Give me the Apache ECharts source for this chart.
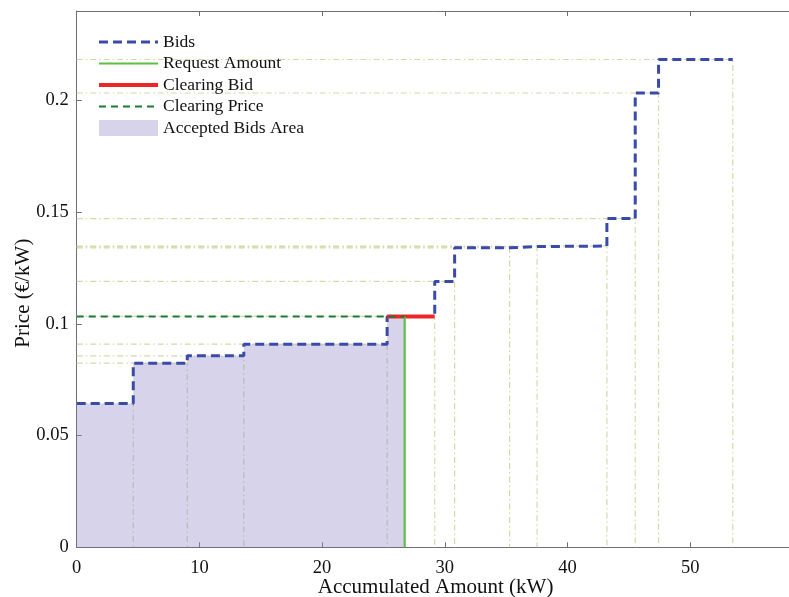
<!DOCTYPE html>
<html>
<head>
<meta charset="utf-8">
<script src="https://cdn.jsdelivr.net/npm/echarts@6/dist/echarts.min.js"></script>
<style>html,body{margin:0;padding:0;background:#fff}#c{width:789px;height:597px}</style>
</head>
<body>
<div id="c"></div>
<script>
// Bid steps: each bid ends at an accumulated amount (kW) and has a price (€/kW)
var stepEnds   = [4.61, 9.01, 13.62, 25.3, 29.18, 30.8, 35.28, 37.52, 43.21, 45.52, 47.42, 53.47];
var stepPrices = [0.0643, 0.0824, 0.0857, 0.0909, 0.1033, 0.119, 0.134, 0.1346, 0.1348, 0.1471, 0.2033, 0.2183];
var requestAmount = 26.73;
var clearingIndex = 4;           // index of the clearing bid
var clearingPrice = stepPrices[clearingIndex];
var xTicks = [0, 10, 20, 30, 40, 50];
var yTicks = [0, 0.05, 0.1, 0.15, 0.2];

var FONT = "'Liberation Serif', 'DejaVu Serif', serif";

// Bids step polyline
var bids = [];
var start = 0;
for (var i = 0; i < stepEnds.length; i++) {
  bids.push([start, stepPrices[i]]);
  bids.push([stepEnds[i], stepPrices[i]]);
  start = stepEnds[i];
}
// Accepted area up to the request amount
var area = [];
start = 0;
for (var i = 0; i < stepEnds.length; i++) {
  var e = Math.min(stepEnds[i], requestAmount);
  area.push([start, stepPrices[i]]);
  area.push([e, stepPrices[i]]);
  if (stepEnds[i] >= requestAmount) break;
  start = stepEnds[i];
}
// Drop lines (horizontal from y axis, vertical to x axis)
var drops = stepEnds.map(function (e, i) {
  return { coords: [[0, stepPrices[i]], [e, stepPrices[i]], [e, 0]] };
});
var clearStart = clearingIndex > 0 ? stepEnds[clearingIndex - 1] : 0;

var chart = echarts.init(document.getElementById('c'));
var axisLineStyle = { color: '#6e6e7a', width: 1 };
chart.setOption({
  animation: false,
  backgroundColor: '#fff',
  grid: { left: 76.7, top: 11, width: 717.8, height: 536.3, containLabel: false, outerBoundsMode: 'none' },
  legend: {
    orient: 'vertical', left: 97, top: 33, padding: 0,
    itemWidth: 59, itemHeight: 16, itemGap: 3.5,
    textStyle: { fontFamily: FONT, fontSize: 17.5, color: '#111' },
    itemStyle: { opacity: 0 },
    data: [
      { name: 'Bids', lineStyle: { width: 3 } },
      { name: 'Request Amount', lineStyle: { width: 2.2 } },
      { name: 'Clearing Bid', lineStyle: { width: 4 } },
      { name: 'Clearing Price', lineStyle: { width: 2.2 } },
      { name: 'Accepted Bids Area', icon: 'rect', itemStyle: { color: '#d6d3ea', opacity: 1 } }
    ]
  },
  xAxis: [{
    type: 'value', min: 0, max: 58.5, interval: 10,
    name: 'Accumulated Amount (kW)', nameLocation: 'middle', nameGap: 30, nameMoveOverlap: false,
    nameTextStyle: { fontFamily: FONT, fontSize: 21, color: '#111' },
    axisLine: { show: true, onZero: false, lineStyle: axisLineStyle },
    axisTick: { show: true, inside: true, length: 5, lineStyle: axisLineStyle },
    axisLabel: { margin: 11, fontFamily: FONT, fontSize: 18.5, color: '#111',
      formatter: function (v) { return xTicks.indexOf(v) >= 0 ? String(v) : ''; } },
    splitLine: { show: false }
  }, {
    type: 'value', min: 0, max: 58.5, interval: 10, position: 'top',
    axisLine: { show: true, onZero: false, lineStyle: axisLineStyle },
    axisTick: { show: true, inside: true, length: 5, lineStyle: axisLineStyle },
    axisLabel: { show: false }, splitLine: { show: false }
  }],
  yAxis: {
    type: 'value', min: 0, max: 0.24, interval: 0.05,
    name: 'Price (€/kW)', nameLocation: 'middle', nameGap: 43, nameMoveOverlap: false,
    nameTextStyle: { fontFamily: FONT, fontSize: 21, color: '#111', padding: [0, 28, 0, 0] },
    axisLine: { show: true, onZero: false, lineStyle: axisLineStyle },
    axisTick: { show: true, inside: true, length: 5, lineStyle: axisLineStyle },
    axisLabel: { margin: 8, fontFamily: FONT, fontSize: 18.5, color: '#111',
      formatter: function (v) {
        for (var k = 0; k < yTicks.length; k++) if (Math.abs(v - yTicks[k]) < 1e-9) return String(yTicks[k]);
        return '';
      } },
    splitLine: { show: false }
  },
  series: [
    {
      name: 'drops', type: 'lines', coordinateSystem: 'cartesian2d', polyline: true,
      silent: true, z: 1,
      lineStyle: { color: '#d4d9a8', width: 1.2, type: [6, 3, 1.5, 3], opacity: 1 },
      data: drops
    },
    {
      name: 'Accepted Bids Area', type: 'line', data: area, symbol: 'none', z: 2,
      color: '#d6d3ea',
      lineStyle: { width: 0, opacity: 0 },
      areaStyle: { color: 'rgba(140,134,200,0.36)', opacity: 1 }
    },
    {
      name: 'Bids', type: 'line', symbol: 'none', z: 3, data: bids,
      color: '#3a4aa9',
      lineStyle: { color: '#3a4aa9', width: 3, type: [9, 5] }
    },
    {
      name: 'Clearing Bid', type: 'line', symbol: 'none', z: 4,
      data: [[clearStart, clearingPrice], [stepEnds[clearingIndex], clearingPrice]],
      color: '#ee2626',
      lineStyle: { color: '#ee2626', width: 4 }
    },
    {
      name: 'Request Amount', type: 'line', symbol: 'none', z: 5,
      data: [[requestAmount, 0], [requestAmount, clearingPrice]],
      color: '#5cc143',
      lineStyle: { color: '#5cc143', width: 2.2 }
    },
    {
      name: 'Clearing Price', type: 'line', symbol: 'none', z: 6,
      data: [[0, clearingPrice], [requestAmount, clearingPrice]],
      color: '#1b7a35',
      lineStyle: { color: '#1b7a35', width: 2, type: [7, 5] }
    }
  ]
});
</script>
</body>
</html>
